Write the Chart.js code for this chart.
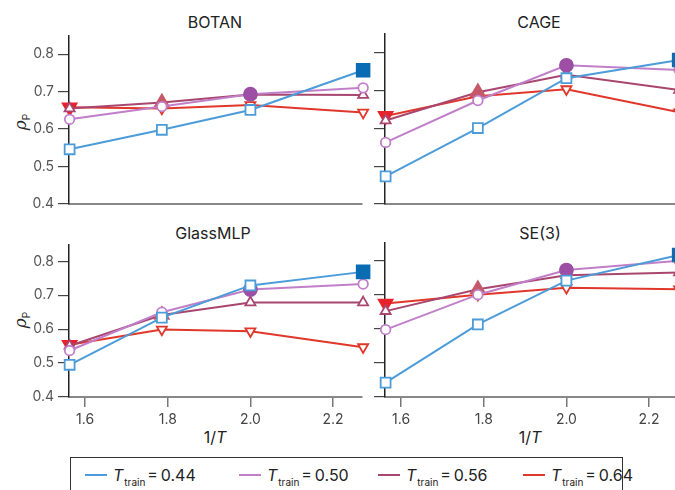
<!DOCTYPE html>
<html>
<head>
<meta charset="utf-8">
<script src="https://cdn.jsdelivr.net/npm/chart.js@4/dist/chart.umd.min.js"></script>
<style>
  html, body { margin: 0; padding: 0; background: #fff; }
  body { width: 675px; height: 490px; position: relative; overflow: hidden; font-family: Inter, "Noto Sans", sans-serif; color: #222; }
  .panel { position: absolute; }
  .title { position: absolute; font-size: 16px; transform: translate(-50%, -50%); white-space: nowrap; }
  .ylab { position: absolute; font-size: 17px; transform: translate(-50%, -50%) rotate(-90deg); white-space: nowrap; }
  .ylab i { font-family: "DejaVu Serif", serif; }
  .ylab sub { font-size: 10px; font-style: normal; }
  .xlab { position: absolute; font-size: 16px; transform: translate(-50%, -50%); white-space: nowrap; }
  .legbox { position: absolute; left: 70px; top: 457px; width: 551px; height: 45px; border: 1px solid #333; }
  .leg { position: absolute; top: 7px; font-size: 16px; white-space: nowrap; }
  .leg .sub { font-size: 10px; position: relative; top: 5px; margin-left: 1px; margin-right: 2px; }
  .leg .sw { display: inline-block; width: 22px; height: 2px; margin-right: 6px; position: relative; top: -5px; }
</style>
</head>
<body>

<!-- titles and axis labels -->
<div class="title" style="left:215px; top:22px;">BOTAN</div>
<div class="title" style="left:539px; top:22px;">CAGE</div>
<div class="title" style="left:213px; top:233px;">GlassMLP</div>
<div class="title" style="left:540px; top:233px;">SE(3)</div>

<div class="ylab" style="left:21px; top:122px;"><i>ρ</i><sub>P</sub></div>
<div class="ylab" style="left:21px; top:320px;"><i>ρ</i><sub>P</sub></div>

<div class="xlab" style="left:215px; top:437px;">1/<i>T</i></div>
<div class="xlab" style="left:530px; top:437px;">1/<i>T</i></div>

<div class="panel" style="left:29px; top:23px; width:345px; height:194px;"><canvas id="botan"></canvas></div>
<div class="panel" style="left:345px; top:23px; width:345px; height:194px;"><canvas id="cage"></canvas></div>
<div class="panel" style="left:29px; top:232px; width:345px; height:195px;"><canvas id="glass"></canvas></div>
<div class="panel" style="left:345px; top:232px; width:345px; height:195px;"><canvas id="se3"></canvas></div>

<div class="legbox" id="legend"></div>

<script>
/* ========= DATA ========= */

// 1/T_test for T = 0.64, 0.56, 0.50, 0.44
const invT = [1 / 0.64, 1 / 0.56, 1 / 0.50, 1 / 0.44];

const xTicks = [1.6, 1.8, 2.0, 2.2];
const yTicks = [0.4, 0.5, 0.6, 0.7, 0.8];

const trainLabels = ["0.44", "0.50", "0.56", "0.64"];

// rho_P per model, per T_train
const botan044 = [0.546, 0.598, 0.651, 0.757];
const botan050 = [0.626, 0.660, 0.693, 0.710];
const botan056 = [0.655, 0.671, 0.692, 0.691];
const botan064 = [0.658, 0.655, 0.664, 0.644];

const cage044 = [0.473, 0.601, 0.733, 0.781];
const cage050 = [0.563, 0.674, 0.767, 0.755];
const cage056 = [0.621, 0.696, 0.742, 0.702];
const cage064 = [0.633, 0.685, 0.704, 0.643];

const glass044 = [0.495, 0.634, 0.729, 0.769];
const glass050 = [0.537, 0.650, 0.717, 0.733];
const glass056 = [0.551, 0.642, 0.679, 0.679];
const glass064 = [0.554, 0.599, 0.594, 0.547];

const se3044 = [0.442, 0.612, 0.740, 0.815];
const se3050 = [0.597, 0.699, 0.771, 0.798];
const se3056 = [0.651, 0.715, 0.756, 0.764];
const se3064 = [0.673, 0.699, 0.719, 0.715];


/* ========= STYLE ========= */

const lineColors = ["#4b9cd8", "#c07fc8", "#a8466f", "#e0372b"];
const fillColors = ["#0a6cb3", "#9c4fa4", "#c5596a", "#e8222a"];
const markers = ["rect", "circle", "triangle", "triangle"];
const rotations = [0, 0, 0, 180];
const openSize = [7, 4.8, 5.8, 5.8];
const fullSize = [9, 6.5, 8, 8];
// filled marker sits where T_test = T_train
const filledIndex = [3, 2, 1, 0];


/* ========= LEGEND ========= */

const legend = document.getElementById("legend");
const legendLeft = [14, 168, 307, 452];
trainLabels.forEach((lab, i) => {
  const el = document.createElement("div");
  el.className = "leg";
  el.style.left = legendLeft[i] + "px";
  el.innerHTML = '<span class="sw" style="background:' + lineColors[i] + '"></span>' +
    '<i>T</i><span class="sub">train</span>=\u2009' + lab;
  legend.appendChild(el);
});


/* ========= PANEL ========= */

function makeDataset(vals, s) {
  const f = filledIndex[s];
  return {
    data: invT.map((x, i) => ({ x: x, y: vals[i] })),
    borderColor: lineColors[s],
    borderWidth: 2,
    pointStyle: markers[s],
    pointRotation: rotations[s],
    pointRadius: invT.map((_, i) => i === f ? fullSize[s] : openSize[s]),
    pointBackgroundColor: invT.map((_, i) => i === f ? fillColors[s] : "#ffffff"),
    pointBorderColor: invT.map((_, i) => i === f ? fillColors[s] : lineColors[s]),
    pointBorderWidth: 1.8,
    clip: false,
    order: s
  };
}

function makePanel(id, series, showX, showY) {
  new Chart(document.getElementById(id), {
    type: "line",
    data: { datasets: series.map((v, s) => makeDataset(v, s)) },
    options: {
      responsive: true,
      maintainAspectRatio: false,
      animation: false,
      layout: { padding: { top: 11, right: 12, left: 0, bottom: 0 } },
      plugins: { legend: { display: false }, tooltip: { enabled: false } },
      scales: {
        x: {
          type: "linear",
          min: 1.561,
          max: 2.27,
          afterBuildTicks: sc => { sc.ticks = xTicks.map(v => ({ value: v })); },
          afterFit: sc => { sc.height = showX ? 30 : 13; },
          grid: { drawOnChartArea: false, drawTicks: showX, tickLength: 10, color: "#777", lineWidth: 1.5 },
          border: { color: "#888", width: 2 },
          ticks: {
            display: showX,
            padding: 4,
            color: "#444",
            font: { family: "Inter", size: 14 },
            callback: v => v.toFixed(1)
          }
        },
        y: {
          min: 0.4,
          max: 0.85,
          afterBuildTicks: sc => { sc.ticks = yTicks.map(v => ({ value: v })); },
          afterFit: sc => { sc.width = 40; },
          grid: { drawOnChartArea: false, tickLength: 11, color: "#444", lineWidth: 1.2 },
          border: { color: "#222", width: 1.5 },
          ticks: {
            display: showY,
            padding: 4,
            color: "#555",
            font: { family: "Inter", size: 14 },
            callback: v => v.toFixed(1)
          }
        }
      }
    }
  });
}


/* ========= INIT ========= */

makePanel("botan", [botan044, botan050, botan056, botan064], false, true);
makePanel("cage", [cage044, cage050, cage056, cage064], false, false);
makePanel("glass", [glass044, glass050, glass056, glass064], true, true);
makePanel("se3", [se3044, se3050, se3056, se3064], true, false);
</script>
</body>
</html>
